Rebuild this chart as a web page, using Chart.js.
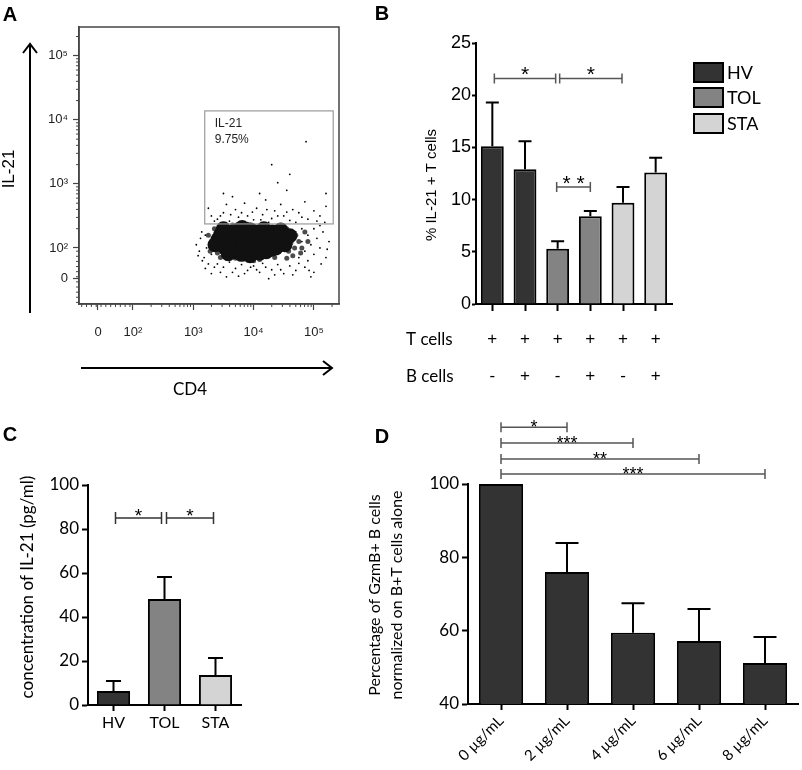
<!DOCTYPE html>
<html>
<head>
<meta charset="utf-8">
<script src="https://cdn.jsdelivr.net/npm/chart.js@4.4.1/dist/chart.umd.min.js"></script>
<style>
  body { margin: 0; background: #fff; width: 802px; height: 770px; position: relative; overflow: hidden; }
  canvas { position: absolute; }
</style>
</head>
<body>
<canvas id="chartA" width="350" height="400" style="left:0;top:0"></canvas>
<canvas id="chartB" width="432" height="390" style="left:370px;top:0"></canvas>
<canvas id="chartC" width="270" height="380" style="left:0;top:390px"></canvas>
<canvas id="chartD" width="442" height="380" style="left:360px;top:390px"></canvas>
<script>
// ---- DADOS ----
// Painel A: eixos em décadas (log10), como no citômetro
const aXTickVals = [1.42, 2, 3, 4, 5];
const aYTickVals = [1.53, 2, 3, 4, 5];
const aTickText = ['0', '10²', '10³', '10⁴', '10⁵'];
const aGateX = [3.19, 5.32];
const aGateY = [2.375, 4.14];
// núcleo denso da população
const aCore = [[3.41,2.13],[3.48,2.25],[3.53,2.0],[3.61,2.17],[3.67,1.94],[3.74,2.28],[3.77,2.08],[3.86,2.2],
  [3.91,1.97],[3.97,2.13],[4.04,2.25],[4.07,2.03],[4.14,2.16],[4.21,1.94],[4.27,2.09],[4.31,2.25],[4.37,2.0],
  [4.44,2.16],[4.52,2.05],[4.6,2.19],[3.58,1.91],[3.94,1.88],[3.36,2.05],[3.81,2.32],[4.17,2.3],
  [3.45,2.2],[3.55,2.1],[3.7,2.0],[3.85,2.05],[4.0,2.0],[4.1,2.1],[4.25,2.2],[4.4,2.05],[4.5,2.15],
  [3.65,2.25],[3.95,2.28],[4.3,1.98],[3.5,2.3],[3.8,1.9],[4.1,1.92],[4.45,2.28],[3.6,2.05],[3.9,2.12]];
const aMid = [[3.35,2.3],[3.45,1.85],[3.65,2.36],[3.9,2.37],[4.1,1.82],[4.35,1.85],[4.55,2.3],[4.65,1.88],
  [4.75,2.1],[3.3,2.05],[4.45,2.35],[4.0,1.8],[3.7,1.84],[4.8,2.0],[3.25,2.2],[4.85,2.25],[4.68,2.0],
  [4.7,2.2],[4.62,2.08],[4.78,1.92],[4.58,1.95],[4.9,2.1],[3.28,1.95],[3.4,1.92],[4.2,2.36],[4.55,1.84]];
const aSparse = [[3.05,2.05],[3.1,1.95],[3.12,2.15],[3.18,1.85],[3.2,2.2],[3.22,2.0],[3.25,1.75],[3.28,2.1],[3.15,1.8],[3.3,1.9],
  [3.4,1.75],[3.5,1.7],[3.6,1.78],[3.7,1.68],[3.8,1.74],[3.9,1.65],[4.0,1.72],[4.1,1.62],[4.2,1.7],[4.3,1.66],
  [4.4,1.74],[4.5,1.6],[4.6,1.72],[4.7,1.65],[4.85,1.7],[5.0,1.62],[3.55,1.55],[4.25,1.52],[3.3,1.6],[4.95,1.55],
  [4.8,2.1],[4.85,1.95],[4.9,2.2],[4.95,2.05],[5.0,1.9],[5.05,2.15],[5.1,2.0],[5.15,2.25],[5.2,1.85],[4.75,1.85],
  [4.8,2.3],[5.0,2.3],[5.1,2.35],[5.25,2.1],[4.7,2.25],[4.9,1.8],
  [3.4,2.45],[3.5,2.55],[3.6,2.42],[3.7,2.6],[3.75,2.48],[3.85,2.7],[3.9,2.5],[4.0,2.44],[4.05,2.62],[4.15,2.52],
  [4.2,2.75],[4.3,2.46],[4.35,2.58],[4.45,2.68],[4.5,2.5],[4.6,2.43],[4.65,2.6],[4.75,2.55],[4.85,2.72],[4.9,2.45],
  [5.0,2.58],[5.1,2.5],[5.2,2.65],[3.55,2.68],[3.3,2.5],[3.25,2.62],[3.65,2.8],[4.1,2.85],[4.55,2.9],[5.2,2.85],
  [4.4,3.02],[3.95,2.38],[4.25,2.4],[4.7,2.4],[3.8,2.4],[4.87,3.66],[4.3,3.3],[3.5,2.85],[4.6,3.15],
  [3.35,2.42],[3.45,2.5],[3.62,2.52],[3.8,2.55],[3.98,2.56],[4.12,2.44],[4.22,2.6],[4.4,2.5],[4.55,2.56],[4.8,2.48],
  [3.08,1.88],[3.14,2.25],[3.2,1.68],[3.35,1.7],[3.45,1.62],[3.65,1.62],[3.85,1.6],[4.05,1.66],[4.35,1.58],[4.65,1.58],
  [4.92,1.65],[5.12,1.75],[5.22,1.98],[5.18,2.4],[5.05,2.42],[3.95,1.7],[3.75,1.56],[4.45,1.66],[4.15,1.76],[4.75,1.76]];

// Painel B
const bGroups = ['HV', 'HV', 'TOL', 'TOL', 'STA', 'STA'];
const bTcells = ['+', '+', '+', '+', '+', '+'];
const bBcells = ['-', '+', '-', '+', '-', '+'];
const bMeans = [15.1, 12.9, 5.3, 8.4, 9.7, 12.6];
const bSem = [4.2, 2.7, 0.7, 0.5, 1.5, 1.4];
const bSigFrom = [0, 2, 2];
const bSigTo = [2, 4, 3];
const bSigY = [21.6, 21.6, 11.2];
const bSigText = ['*', '*', '* *'];

// Painel C
const cGroups = ['HV', 'TOL', 'STA'];
const cMeans = [6.4, 48.2, 13.6];
const cSem = [4.5, 10.0, 7.8];
const cSigFrom = [0, 1];
const cSigTo = [1, 2];
const cSigY = [85, 85];
const cSigText = ['*', '*'];

// Painel D
const dDoses = ['0 µg/mL', '2 µg/mL', '4 µg/mL', '6 µg/mL', '8 µg/mL'];
const dMeans = [100, 76, 59.4, 57.2, 51.2];
const dSem = [0, 7.9, 8.1, 8.7, 7.1];
const dSigFrom = [0, 0, 0, 0];
const dSigTo = [1, 2, 3, 4];
const dSigY = [115.5, 111.2, 106.8, 102.7];
const dSigText = ['*', '***', '**', '***'];

// cores dos grupos
const corGrupo = { HV: '#333333', TOL: '#838383', STA: '#d4d4d4' };
const ARIAL = '"Liberation Sans", Arial, sans-serif';
const CALIBRI = 'Lato, "Open Sans", sans-serif';

Chart.defaults.font.family = ARIAL;
Chart.defaults.color = '#000';

// --- Plugins reaproveitados ---
const errorBars = {
  id: 'errorBars',
  afterDatasetsDraw(chart, args, opts) {
    const { ctx } = chart;
    const y = chart.scales.y;
    const meta = chart.getDatasetMeta(0);
    ctx.save();
    ctx.strokeStyle = '#000';
    ctx.lineWidth = 2;
    meta.data.forEach((bar, i) => {
      if (!opts.sem[i]) return;
      const top = y.getPixelForValue(opts.means[i] + opts.sem[i]);
      ctx.beginPath();
      ctx.moveTo(bar.x, bar.y);
      ctx.lineTo(bar.x, top);
      ctx.moveTo(bar.x - opts.cap / 2, top);
      ctx.lineTo(bar.x + opts.cap / 2, top);
      ctx.stroke();
    });
    ctx.restore();
  }
};

const sigBrackets = {
  id: 'sigBrackets',
  afterDraw(chart, args, opts) {
    const { ctx } = chart;
    const x = chart.scales.x, y = chart.scales.y;
    ctx.save();
    ctx.strokeStyle = opts.color;
    ctx.fillStyle = '#000';
    ctx.lineWidth = 1.5;
    ctx.font = opts.font;
    ctx.textAlign = 'center';
    ctx.textBaseline = 'alphabetic';
    opts.from.forEach((a, k) => {
      const ins = opts.inset[k] || [0, 0];
      const x0 = x.getPixelForValue(a) + ins[0];
      const x1 = x.getPixelForValue(opts.to[k]) - ins[1];
      const py = y.getPixelForValue(opts.y[k]);
      ctx.beginPath();
      ctx.moveTo(x0, py); ctx.lineTo(x1, py);
      ctx.moveTo(x0, py - opts.tick); ctx.lineTo(x0, py + opts.tick);
      ctx.moveTo(x1, py - opts.tick); ctx.lineTo(x1, py + opts.tick);
      ctx.stroke();
      ctx.fillText(opts.text[k], (x0 + x1) / 2, py + opts.textDy);
    });
    ctx.restore();
  }
};

function textoRot(ctx, txt, x, y, font) {
  ctx.save();
  ctx.translate(x, y);
  ctx.rotate(-Math.PI / 2);
  ctx.font = font;
  ctx.textAlign = 'center';
  ctx.textBaseline = 'middle';
  ctx.fillText(txt, 0, 0);
  ctx.restore();
}

function letra(ctx, l, x, y) {
  ctx.save();
  ctx.font = 'bold 20px ' + ARIAL;
  ctx.textAlign = 'center';
  ctx.textBaseline = 'middle';
  ctx.fillStyle = '#000';
  ctx.fillText(l, x, y);
  ctx.restore();
}

function eixoBarras(widthY, heightX, yOpts, xOpts) {
  return {
    x: Object.assign({
      grid: { offset: false, drawOnChartArea: false, tickLength: 6, tickWidth: 2, tickColor: '#000' },
      border: { color: '#000', width: 2 },
      afterFit: s => { s.height = heightX; }
    }, xOpts),
    y: Object.assign({
      grid: { drawOnChartArea: false, tickLength: 6, tickWidth: 2, tickColor: '#000' },
      border: { color: '#000', width: 2 },
      afterFit: s => { s.width = widthY; }
    }, yOpts)
  };
}

// ---- PAINEL A ----
const extrasA = {
  id: 'extrasA',
  afterDraw(chart) {
    const { ctx, chartArea: ca } = chart;
    const x = chart.scales.x, y = chart.scales.y;
    ctx.save();
    // moldura
    ctx.strokeStyle = '#444';
    ctx.lineWidth = 1.5;
    ctx.strokeRect(ca.left, ca.top, ca.right - ca.left, ca.bottom - ca.top);
    // ticks menores
    ctx.lineWidth = 1;
    ctx.beginPath();
    for (let d = 2; d <= 5; d++) {
      for (let m = 2; m <= 9; m++) {
        const v = d + Math.log10(m);
        if (v < x.max) { const px = x.getPixelForValue(v); ctx.moveTo(px, ca.bottom); ctx.lineTo(px, ca.bottom + 3); }
        if (v < y.max) { const py = y.getPixelForValue(v); ctx.moveTo(ca.left, py); ctx.lineTo(ca.left - 3, py); }
      }
    }
    for (let v = 1.15; v < 2; v += 0.08) {
      const px = x.getPixelForValue(v); ctx.moveTo(px, ca.bottom); ctx.lineTo(px, ca.bottom + 3);
      const py = y.getPixelForValue(v); ctx.moveTo(ca.left, py); ctx.lineTo(ca.left - 3, py);
    }
    ctx.stroke();
    // gate
    const gx0 = x.getPixelForValue(aGateX[0]), gx1 = x.getPixelForValue(aGateX[1]);
    const gy0 = y.getPixelForValue(aGateY[1]), gy1 = y.getPixelForValue(aGateY[0]);
    ctx.strokeStyle = '#9a9a9a';
    ctx.lineWidth = 1.2;
    ctx.strokeRect(gx0, gy0, gx1 - gx0, gy1 - gy0);
    ctx.fillStyle = '#222';
    ctx.font = '12px ' + ARIAL;
    ctx.textBaseline = 'middle';
    ctx.fillText('IL-21', gx0 + 10, gy0 + 13);
    ctx.fillText('9.75%', gx0 + 10, gy0 + 29);
    // setas
    ctx.strokeStyle = '#000';
    ctx.lineWidth = 2;
    ctx.beginPath();
    ctx.moveTo(30, 313); ctx.lineTo(30, 44);
    ctx.moveTo(23, 53); ctx.lineTo(30, 44); ctx.lineTo(37, 53);
    ctx.moveTo(81, 368); ctx.lineTo(332, 368);
    ctx.moveTo(323, 361); ctx.lineTo(332, 368); ctx.lineTo(323, 375);
    ctx.stroke();
    ctx.fillStyle = '#000';
    textoRot(ctx, 'IL-21', 9, 169, '17px ' + ARIAL);
    ctx.font = '17px ' + CALIBRI;
    ctx.textAlign = 'center';
    ctx.fillText('CD4', 190, 390);
    ctx.restore();
    letra(ctx, 'A', 10, 15);
  }
};

const escalaA = (vals, min, max, pad, fit) => ({
  type: 'linear', min, max,
  afterBuildTicks: s => { s.ticks = vals.map(v => ({ value: v })); },
  ticks: { callback: v => aTickText[vals.indexOf(v)], font: { size: 13 }, color: '#222', padding: pad },
  grid: { drawOnChartArea: false, tickLength: 6, tickColor: '#444', tickWidth: 1.2 },
  border: { color: '#444', width: 1.5 },
  afterFit: fit
});

const pontos = arr => arr.map(([x, y]) => ({ x, y }));

new Chart(document.getElementById('chartA'), {
  type: 'scatter',
  data: {
    datasets: [
      { data: pontos(aCore), pointRadius: 7.5, backgroundColor: '#111', borderWidth: 0 },
      { data: pontos(aMid), pointRadius: 2.5, backgroundColor: 'rgba(0,0,0,0.7)', borderWidth: 0 },
      { data: pontos(aSparse), pointRadius: 0.9, backgroundColor: '#000', borderWidth: 0 }
    ]
  },
  options: {
    responsive: false, animation: false,
    layout: { padding: { top: 27, right: 11, left: 0, bottom: 0 } },
    plugins: { legend: { display: false }, tooltip: { enabled: false } },
    scales: {
      x: escalaA(aXTickVals, 1.105, 5.416, 15, s => { s.height = 96; }),
      y: escalaA(aYTickVals, 1.125, 5.45, 5, s => { s.width = 79; })
    }
  },
  plugins: [extrasA]
});

// ---- PAINEL B ----
const extrasB = {
  id: 'extrasB',
  afterDraw(chart) {
    const { ctx } = chart;
    ctx.save();
    ctx.fillStyle = '#000';
    textoRot(ctx, '% IL-21 + T cells', 62, 185, '15px ' + ARIAL);
    // legenda
    const itens = ['HV', 'TOL', 'STA'];
    const ys = [63, 88, 114];
    ctx.lineWidth = 2;
    ctx.strokeStyle = '#000';
    ctx.font = '18px ' + CALIBRI;
    ctx.textBaseline = 'middle';
    itens.forEach((g, i) => {
      ctx.fillStyle = corGrupo[g];
      ctx.fillRect(324, ys[i], 29, 19);
      ctx.strokeRect(324, ys[i], 29, 19);
      ctx.fillStyle = '#000';
      ctx.fillText(g, 357, ys[i] + 10);
    });
    ctx.font = '17px ' + CALIBRI;
    ctx.fillText('T cells', 36, 340);
    ctx.fillText('B cells', 36, 377);
    ctx.restore();
    letra(ctx, 'B', 12, 14);
  }
};

new Chart(document.getElementById('chartB'), {
  type: 'bar',
  data: {
    labels: bTcells.map((t, i) => [t, bBcells[i]]),
    datasets: [{
      data: bMeans,
      backgroundColor: bGroups.map(g => corGrupo[g]),
      borderColor: '#000', borderWidth: 2,
      barPercentage: 0.7, categoryPercentage: 1
    }]
  },
  options: {
    responsive: false, animation: false,
    layout: { padding: { top: 43, right: 130, left: 0, bottom: 0 } },
    plugins: {
      legend: { display: false }, tooltip: { enabled: false },
      errorBars: { means: bMeans, sem: bSem, cap: 13 },
      sigBrackets: { from: bSigFrom, to: bSigTo, y: bSigY, text: bSigText,
        inset: [[2, 2], [2, 1], [-1, 0]], color: '#555', tick: 5, textDy: 3, font: '21px ' + ARIAL }
    },
    scales: eixoBarras(106, 86,
      { min: 0, max: 25, ticks: { stepSize: 5, font: { size: 18 }, padding: 1 }, grid: { drawOnChartArea: false, tickLength: 4, tickWidth: 2, tickColor: '#000' } },
      { ticks: { font: { size: 17, lineHeight: 37 / 17 }, padding: 10 }, grid: { offset: false, drawOnChartArea: false, tickLength: 7, tickWidth: 2, tickColor: '#000' } })
  },
  plugins: [errorBars, sigBrackets, extrasB]
});

// ---- PAINEL C ----
const extrasC = {
  id: 'extrasC',
  afterDraw(chart) {
    const { ctx } = chart;
    ctx.save();
    ctx.fillStyle = '#000';
    textoRot(ctx, 'concentration of IL-21 (pg/ml)', 28, 197, '17px ' + CALIBRI);
    ctx.restore();
    letra(ctx, 'C', 10, 45);
  }
};

new Chart(document.getElementById('chartC'), {
  type: 'bar',
  data: {
    labels: cGroups,
    datasets: [{
      data: cMeans,
      backgroundColor: cGroups.map(g => corGrupo[g]),
      borderColor: '#000', borderWidth: 2,
      barPercentage: 0.65, categoryPercentage: 1
    }]
  },
  options: {
    responsive: false, animation: false,
    layout: { padding: { top: 95, right: 29, left: 0, bottom: 0 } },
    plugins: {
      legend: { display: false }, tooltip: { enabled: false },
      errorBars: { means: cMeans, sem: cSem, cap: 15 },
      sigBrackets: { from: cSigFrom, to: cSigTo, y: cSigY, text: cSigText,
        inset: [[2, 3], [2, 2]], color: '#333', tick: 6, textDy: 4, font: '19px ' + ARIAL }
    },
    scales: eixoBarras(88, 65,
      { min: 0, max: 100, ticks: { stepSize: 20, font: { size: 17, family: CALIBRI }, padding: 3 } },
      { ticks: { font: { size: 16, family: CALIBRI }, padding: 2 } })
  },
  plugins: [errorBars, sigBrackets, extrasC]
});

// ---- PAINEL D ----
const extrasD = {
  id: 'extrasD',
  afterDraw(chart) {
    const { ctx } = chart;
    ctx.save();
    ctx.fillStyle = '#000';
    textoRot(ctx, 'Percentage of GzmB+ B cells', 15, 205, '16px ' + CALIBRI);
    textoRot(ctx, 'normalized on B+T cells alone', 37, 205, '16px ' + CALIBRI);
    ctx.restore();
    letra(ctx, 'D', 22, 47);
  }
};

new Chart(document.getElementById('chartD'), {
  type: 'bar',
  data: {
    labels: dDoses,
    datasets: [{
      data: dMeans,
      backgroundColor: '#333333',
      borderColor: '#000', borderWidth: 2,
      barPercentage: 0.67, categoryPercentage: 1
    }]
  },
  options: {
    responsive: false, animation: false,
    layout: { padding: { top: 94, right: 4, left: 0, bottom: 0 } },
    plugins: {
      legend: { display: false }, tooltip: { enabled: false },
      errorBars: { means: dMeans, sem: dSem, cap: 23 },
      sigBrackets: { from: dSigFrom, to: dSigTo, y: dSigY, text: dSigText,
        inset: [], color: '#555', tick: 5, textDy: 6, font: '18px ' + ARIAL }
    },
    scales: eixoBarras(108, 66,
      { min: 40, max: 100, ticks: { stepSize: 20, font: { size: 17, family: CALIBRI }, padding: 3 } },
      { ticks: { font: { size: 15, family: CALIBRI }, maxRotation: 45, minRotation: 45, padding: 2 } })
  },
  plugins: [errorBars, sigBrackets, extrasD]
});
</script>
</body>
</html>
